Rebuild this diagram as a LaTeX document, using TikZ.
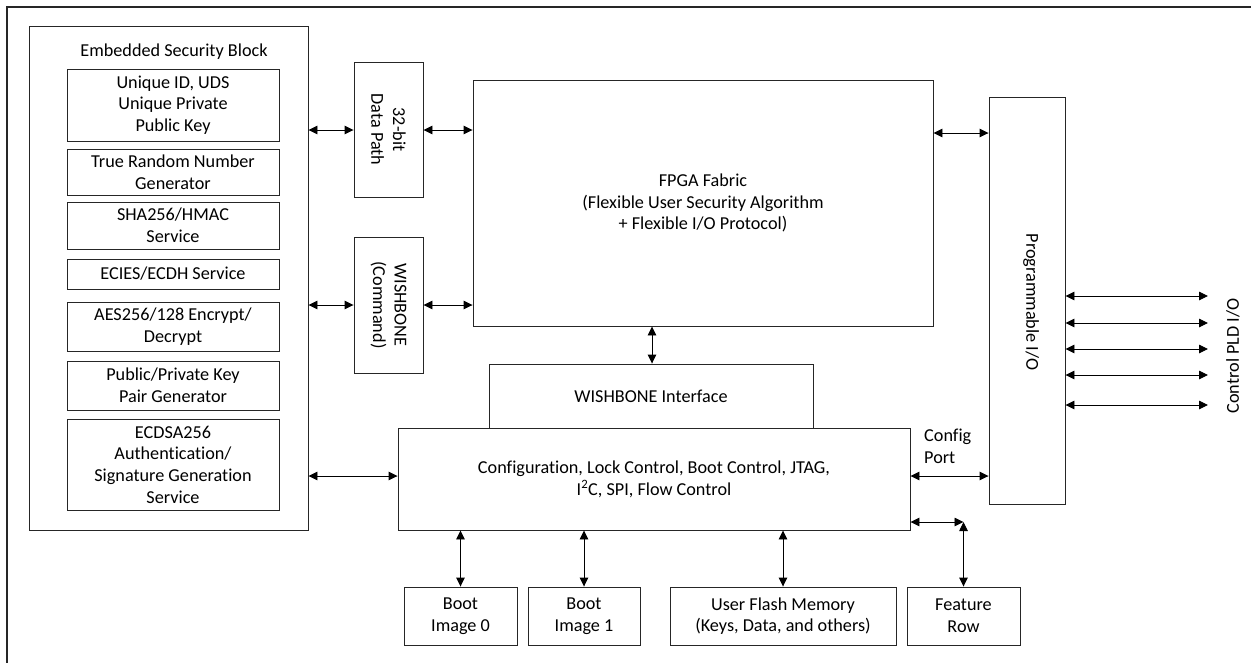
\documentclass[tikz,border=0pt]{standalone}
\usepackage{fontspec}
\setmainfont[Ligatures=NoCommon]{Carlito}
\usetikzlibrary{arrows.meta}
\newcommand\dgfont{\fontsize{18.2pt}{21.7pt}\selectfont}
\tikzset{
  blk/.style={draw=black!85, line width=0.9pt, inner sep=0pt, align=center, font=\dgfont},
  txt/.style={inner sep=0pt, align=center, font=\dgfont},
  arr/.style={draw=black, line width=0.9pt, {Triangle[length=9pt,width=8.5pt]}-{Triangle[length=9pt,width=8.5pt]}},
}
\begin{document}
\begin{tikzpicture}[x=1pt,y=-1pt]
\useasboundingbox (0,0) rectangle (1251,662);
\clip (0,0) rectangle (1251,662);
\fill[white] (0,0) rectangle (1251,662);
% outer frame (extends beyond the picture)
\draw[line width=1.3pt, black!85] (7,680) -- (7,7) -- (1270,7);

% Embedded security block
\node[blk, minimum width=279pt, minimum height=504pt] (esb) at (168.5,278) {};
\node[txt] (esbt) at (174,52) {Embedded Security Block};
\node[blk, minimum width=212pt, minimum height=72pt] (u1) at (173,105) {Unique ID, UDS\\Unique Private\\Public Key};
\node[blk, minimum width=212pt, minimum height=46pt] (u2) at (173,172) {True Random Number\\Generator};
\node[blk, minimum width=212pt, minimum height=47pt] (u3) at (173,225.5) {SHA256/HMAC\\Service};
\node[blk, minimum width=212pt, minimum height=30pt] (u4) at (173,274) {ECIES/ECDH Service};
\node[blk, minimum width=212pt, minimum height=49pt] (u5) at (173,326.5) {AES256/128 Encrypt/\\Decrypt};
\node[blk, minimum width=212pt, minimum height=49pt] (u6) at (173,385.5) {Public/Private Key\\Pair Generator};
\node[blk, minimum width=212pt, minimum height=91pt] (u7) at (173,464.5) {ECDSA256\\Authentication/\\Signature Generation\\Service};

% bus boxes
\node[blk, minimum width=69pt, minimum height=135pt] (dp) at (388.5,129.5) {};
\node[txt, rotate=-90] (dpt) at (dp.center) {32-bit\\Data Path};
\node[blk, minimum width=69pt, minimum height=136pt] (wbc) at (388.5,305) {};
\node[txt, rotate=-90] (wbct) at (wbc.center) {WISHBONE\\(Command)};

% FPGA fabric
\node[blk, minimum width=460pt, minimum height=246pt] (fpga) at (703,203) {FPGA Fabric\\(Flexible User Security Algorithm\\+ Flexible I/O Protocol)};

% WISHBONE interface and configuration
\node[blk, minimum width=324pt, minimum height=64pt] (wbi) at (651,396) {WISHBONE Interface};
\node[blk, minimum width=512pt, minimum height=102pt] (cfg) at (654,479) {Configuration, Lock Control, Boot Control, JTAG,\\I\textsuperscript{2}C, SPI, Flow Control};

% programmable I/O
\node[blk, minimum width=76pt, minimum height=407pt] (pio) at (1027,300.5) {};
\node[txt, rotate=-90] (piot) at (1031,302) {Programmable I/O};

% bottom memories
\node[blk, minimum width=113pt, minimum height=58pt] (b0) at (460.5,616) {Boot\\Image 0};
\node[blk, minimum width=112pt, minimum height=58pt] (b1) at (584,616) {Boot\\Image 1};
\node[blk, minimum width=226pt, minimum height=58pt] (ufm) at (783,616) {User Flash Memory\\(Keys, Data, and others)};
\node[blk, minimum width=113pt, minimum height=58pt] (fr) at (963.5,616) {Feature\\Row};

% labels
\node[txt, anchor=west, align=left] (cport) at (924,446) {Config\\Port};
\node[txt, rotate=90] (ctl) at (1233,356) {Control PLD I/O};

% connectors
\draw[arr] (esb.east |- 0,130) -- (dp.west |- 0,130);
\draw[arr] (dp.east |- 0,130) -- (fpga.west |- 0,130);
\draw[arr] (esb.east |- wbc.west) -- (wbc.west);
\draw[arr] (wbc.east) -- (fpga.west |- wbc.east);
\draw[arr] (fpga.east |- 0,133) -- (pio.west |- 0,133);
\draw[arr] (fpga.south -| 652,0) -- (wbi.north -| 652,0);
\draw[arr] (esb.east |- 0,476) -- (cfg.west |- 0,476);
\draw[arr] (cfg.east |- 0,476) -- (pio.west |- 0,476);
\draw[arr] (cfg.south -| b0.north) -- (b0.north);
\draw[arr] (cfg.south -| b1.north) -- (b1.north);
\draw[arr] (cfg.south -| ufm.north) -- (ufm.north);
\coordinate (corner) at (963.5,522);
\draw[arr] (cfg.east |- corner) -- (corner);
\draw[arr] (corner) -- (fr.north);
\foreach \yy/\nm in {296/o1,323/o2,349/o3,375/o4,405/o5}{
  \coordinate (\nm) at (1208,\yy);
  \draw[arr] (pio.east |- \nm) -- (\nm);
}
\end{tikzpicture}
\end{document}
